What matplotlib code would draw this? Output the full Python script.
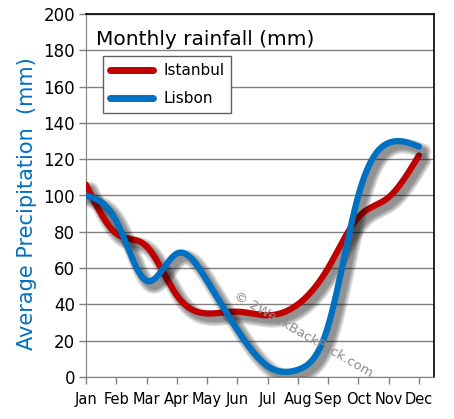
import numpy as np
import matplotlib
matplotlib.use("Agg")
import matplotlib.pyplot as plt
import matplotlib.patheffects as pe

months = ['Jan', 'Feb', 'Mar', 'Apr', 'May', 'Jun', 'Jul', 'Aug', 'Sep', 'Oct', 'Nov', 'Dec']
istanbul = [106, 79, 72, 45, 35, 36, 34, 40, 60, 88, 99, 122]
lisbon = [100, 86, 53, 68, 53, 26, 6, 4, 28, 100, 129, 127]

red = '#c00000'
blue = '#0070c0'


def smooth(y, n=40):
    # natural cubic spline through the monthly values (unit spacing)
    y = np.asarray(y, float)
    k = len(y)
    A = np.zeros((k, k))
    b = np.zeros(k)
    A[0, 0] = A[-1, -1] = 1
    for i in range(1, k - 1):
        A[i, i - 1], A[i, i], A[i, i + 1] = 1, 4, 1
        b[i] = 6 * (y[i + 1] - 2 * y[i] + y[i - 1])
    M = np.linalg.solve(A, b)
    xs, ys = [], []
    for i in range(k - 1):
        t = np.linspace(0, 1, n, endpoint=False)
        s = ((1 - t) * y[i] + t * y[i + 1]
             + ((1 - t) ** 3 - (1 - t)) * M[i] / 6 + (t ** 3 - t) * M[i + 1] / 6)
        xs.extend(i + t)
        ys.extend(s)
    xs.append(k - 1)
    ys.append(y[-1])
    return np.array(xs), np.array(ys)


fig = plt.figure(figsize=(4.54, 4.19), dpi=100)
ax = fig.add_axes([86 / 454, 42 / 419, 348 / 454, 363 / 419])

shadow = [pe.SimpleLineShadow(offset=(3.5, -3.5), shadow_color='k', alpha=0.13, linewidth=w)
          for w in (11, 9, 7, 5)] + [pe.Normal()]

for data, col, lab in [(istanbul, red, 'Istanbul'), (lisbon, blue, 'Lisbon')]:
    xs, ys = smooth(data)
    ax.plot(xs, ys, color=col, lw=4.5, solid_capstyle='round', label=lab,
            path_effects=shadow, zorder=3)

ax.set_xlim(0, 11.5)
ax.set_ylim(0, 200)
ax.set_yticks(range(0, 201, 20))
ax.set_xticks(range(12))
ax.set_xticklabels(months)
ax.yaxis.grid(True, color='#808080', lw=1)
ax.set_axisbelow(True)
for s in ('left', 'bottom'):
    ax.spines[s].set_color('#808080')
for s in ('top', 'right'):
    ax.spines[s].set_color('black')
    ax.spines[s].set_linewidth(1.2)
ax.tick_params(axis='both', colors='#808080', length=5, width=1, labelcolor='black')
ax.tick_params(axis='y', labelsize=12, pad=3)
ax.tick_params(axis='x', labelsize=10.5, pad=6)

ax.text(0.03, 0.915, 'Monthly rainfall (mm)', transform=ax.transAxes, fontsize=14.5,
        color='black', ha='left', va='baseline')

leg = ax.legend(loc='upper left', bbox_to_anchor=(103 / 454, 1 - 56 / 419),
                bbox_transform=fig.transFigure, borderaxespad=0, fancybox=False,
                edgecolor='#606060', fontsize=11, handlelength=2.8, handletextpad=0.7,
                borderpad=0.45, labelspacing=0.85, framealpha=1)
leg.get_frame().set_linewidth(1)
for line in leg.get_lines():
    line.set_linewidth(5)
    line.set_path_effects([])

fig.text(27 / 454, 1 - 204 / 419, 'Average Precipitation  (mm)', rotation=90,
         color=blue, fontsize=15, ha='center', va='center')

ax.text(4.9, 45, '\u00a9 2WeekBackPack.com', rotation=-30, color='#8c8c8c', fontsize=9.5,
        ha='left', va='center', rotation_mode='anchor', zorder=4)

fig.savefig('out.png', dpi=100)
